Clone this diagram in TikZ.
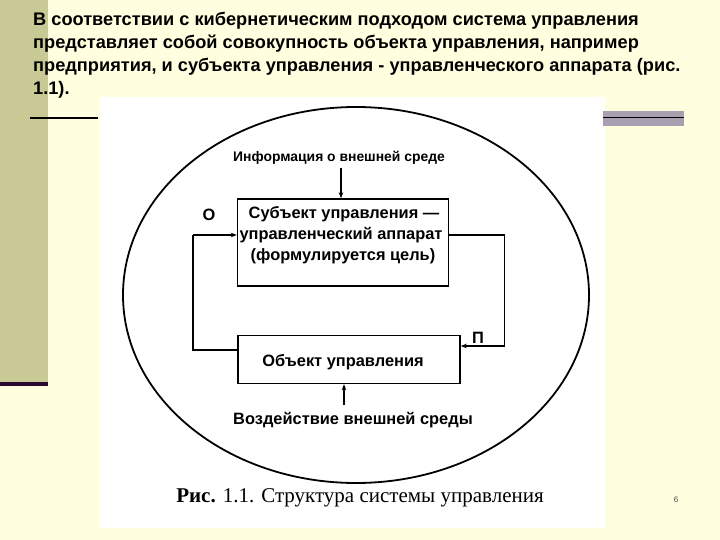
\documentclass[tikz,border=0pt]{standalone}
\usepackage{fontspec}
\setmainfont{Liberation Sans}
\newfontfamily\capfont{Liberation Serif}
\usetikzlibrary{arrows.meta}
\definecolor{bgy}{HTML}{FFFFE0}
\definecolor{olivebar}{HTML}{C9C996}
\definecolor{purpline}{HTML}{2A0A2E}
\definecolor{graybar}{HTML}{A8A0B0}
\tikzset{
  titleline/.style={anchor=base west, inner sep=0pt, font=\fontsize{18.2}{21}\selectfont\bfseries},
  dtext/.style={inner sep=0pt, font=\fontsize{16.4}{19}\selectfont\bfseries},
  stext/.style={inner sep=0pt, font=\fontsize{13.9}{16}\selectfont\bfseries},
  blk/.style={draw=black, line width=1.4pt},
  conn/.style={line width=1.3pt, -{Stealth[length=6pt,width=4.5pt]}},
  plain/.style={line width=1.3pt}
}
\begin{document}
\begin{tikzpicture}[x=1pt,y=-1pt]
\useasboundingbox (0,0) rectangle (720,540);
\fill[bgy] (0,0) rectangle (720,540);
\fill[olivebar] (0,0) rectangle (48,382);
\fill[purpline] (0,382) rectangle (48,385.5);
\fill[white] (100,97) rectangle (605,528);
\draw[line width=2pt] (30,118) -- (98,118);
\fill[graybar] (603,111) rectangle (684,126);
\draw[line width=1.2pt] (603,117.5) -- (684,117.5);
% title
\node[titleline] (t1) at (33,26) {В соответствии с кибернетическим подходом система управления};
\node[titleline] (t2) at (33,49) {представляет собой совокупность объекта управления, например};
\node[titleline] (t3) at (33,72) {предприятия, и субъекта управления - управленческого аппарата (рис.};
\node[titleline] (t4) at (33,95) {1.1).};
% ellipse
\draw[line width=1.8pt] (356,295) ellipse [x radius=233, y radius=188];
% boxes
\node[blk, minimum width=211pt, minimum height=87pt, inner sep=0pt] (subj) at (343,242.5) {};
\node[dtext] (s1) at (344,214) {Субъект управления —};
\node[dtext] (s2) at (341,235) {управленческий аппарат};
\node[dtext] (s3) at (343,256) {(формулируется цель)};
\node[blk, minimum width=222pt, minimum height=48pt, inner sep=0pt] (obj) at (349,359.5) {};
\node[dtext] (o1) at (343,362) {Объект управления};
\node[stext] (info) at (339,158) {Информация о внешней среде};
\node[dtext] (env) at (353,420) {Воздействие внешней среды};
\node[dtext] (lO) at (209,215) {О};
\node[dtext] (lP) at (478,338) {П};
% connectors
\coordinate (itop) at (341,168);
\coordinate (ebot) at (344,405);
\draw[conn] (itop) -- (itop |- subj.north);
\draw[conn] (ebot) -- (ebot |- obj.south);
\coordinate (L1) at (193,350);
\coordinate (L2) at (193,235);
\draw[plain] (obj.west |- L1) -- (L1) -- (L2);
\draw[conn] (L2) -- (subj.west |- L2);
\coordinate (R1) at (504.5,235);
\coordinate (R2) at (504.5,346);
\draw[plain] (subj.east |- R1) -- (R1) -- (R2);
\draw[conn] (R2) -- (obj.east |- R2);
% caption
\node[inner sep=0pt, font=\capfont\fontsize{21}{24}\selectfont] (cap) at (360,498) {\textbf{Рис.} 1.1. Структура системы управления};
\node[inner sep=0pt, font=\fontsize{8}{9}\selectfont, text=black!70] (pg) at (676,500) {6};
\end{tikzpicture}
\end{document}
